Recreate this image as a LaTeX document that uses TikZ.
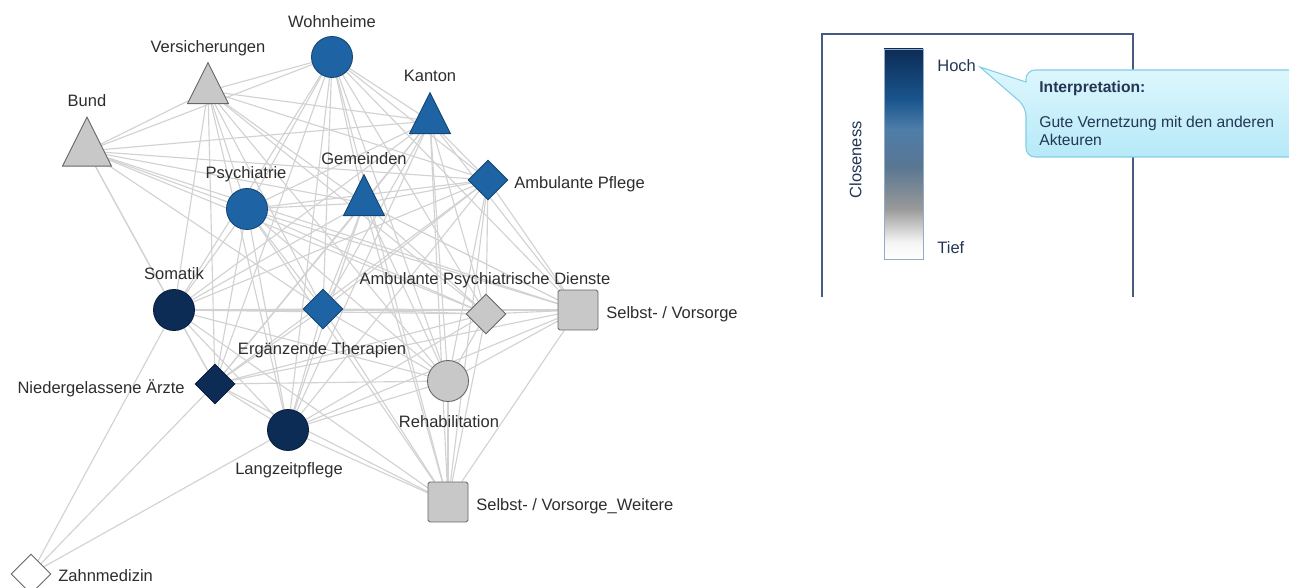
\documentclass[tikz,border=0pt]{standalone}
\usepackage{fontspec}
\setmainfont{Liberation Sans}
\usetikzlibrary{shapes.geometric,backgrounds}

\definecolor{navy}{RGB}{12,44,86}
\definecolor{midblue}{RGB}{30,100,165}
\definecolor{lightgray}{RGB}{200,200,200}
\definecolor{edgegray}{RGB}{210,210,210}
\definecolor{labelgray}{RGB}{45,45,45}
\definecolor{framecol}{RGB}{70,90,130}
\definecolor{legendtext}{RGB}{35,55,85}
\definecolor{barline}{RGB}{150,170,200}
\definecolor{calloutline}{RGB}{130,205,230}
\definecolor{callouttop}{RGB}{222,247,253}
\definecolor{calloutbot}{RGB}{182,233,248}

% closeness bar: white (low) to navy (high)
\pgfdeclareverticalshading{closebar}{100bp}{color(0bp)=(white); color(25bp)=(white);
  color(29bp)=(white!96!black); color(37bp)=(black!40); color(47bp)=(black!40!midblue!70);
  color(56bp)=(midblue!75!white!90!black); color(63bp)=(midblue!85!black);
  color(75bp)=(navy); color(100bp)=(navy)}

\tikzset{
  actor/.style={draw, line width=0.5pt, inner sep=0pt, minimum size=0.82cm},
  circ/.style={actor, circle},
  diam/.style={actor, diamond, minimum size=0.8cm},
  sq/.style={actor, rectangle, rounded corners=1pt, minimum size=0.8cm},
  tri/.style={actor, isosceles triangle, shape border rotate=90,
    isosceles triangle stretches, minimum width=0.82cm, minimum height=0.82cm},
  hi/.style={fill=navy, draw=navy!70!black},
  mid/.style={fill=midblue, draw=midblue!70!black},
  lo/.style={fill=lightgray, draw=black!60},
  none/.style={fill=white, draw=black!60},
  lbl/.style={inner sep=0pt, text height=0.72em, text depth=0pt, text=labelgray,
    font=\fontsize{9.4}{11}\selectfont},
  edge/.style={draw=edgegray, line width=0.65pt},
}

\begin{document}
\begin{tikzpicture}[x=0.02cm,y=-0.02cm]
  \clip (0,0) rectangle (1289,588);

  % actors
  \node[circ,mid] (woh) at (332,57) {};
  \node[tri,lo] (ver) at (208,91) {};
  \node[tri,lo,minimum width=0.98cm,minimum height=0.98cm] (bund) at (87,151) {};
  \node[tri,mid] (kan) at (430,121) {};
  \node[circ,mid] (psy) at (247,209) {};
  \node[tri,mid] (gem) at (364,203) {};
  \node[diam,mid] (ambpf) at (488,180) {};
  \node[circ,hi] (som) at (174,310) {};
  \node[diam,mid] (erg) at (323,309) {};
  \node[diam,lo] (aps) at (486,314) {};
  \node[sq,lo] (sv) at (578,310) {};
  \node[diam,hi] (arz) at (215,384) {};
  \node[circ,lo] (reha) at (448,381) {};
  \node[circ,hi] (lzp) at (288,430) {};
  \node[sq,lo] (svw) at (448,502) {};
  \node[diam,none] (zahn) at (31,574) {};

  % labels
  \node[lbl] (wohL) at (332,21) {Wohnheime};
  \node[lbl] (verL) at (208,46) {Versicherungen};
  \node[lbl] (bundL) at (87,100) {Bund};
  \node[lbl] (kanL) at (430,75) {Kanton};
  \node[lbl] (psyL) at (246,172) {Psychiatrie};
  \node[lbl] (gemL) at (364,158) {Gemeinden};
  \node[lbl,anchor=west] (ambpfL) at (514,182) {Ambulante Pflege};
  \node[lbl] (somL) at (174,273) {Somatik};
  \node[lbl] (ergL) at (322,348) {Ergänzende Therapien};
  \node[lbl] (apsL) at (485,278) {Ambulante Psychiatrische Dienste};
  \node[lbl,anchor=west] (svL) at (606,312) {Selbst- / Vorsorge};
  \node[lbl,anchor=east] (arzL) at (185,387) {Niedergelassene Ärzte};
  \node[lbl] (rehaL) at (449,421) {Rehabilitation};
  \node[lbl] (lzpL) at (289,468) {Langzeitpflege};
  \node[lbl,anchor=west] (svwL) at (476,504) {Selbst- / Vorsorge\_Weitere};
  \node[lbl,anchor=west] (zahnL) at (58,575) {Zahnmedizin};

  % ties
  \begin{scope}[on background layer]
    \foreach \a/\b in {bund/ver, bund/woh, bund/kan, bund/ambpf, bund/gem, bund/psy,
        bund/erg, bund/aps, bund/som, bund/arz, bund/sv,
        ver/woh, ver/kan, ver/ambpf, ver/gem, ver/psy, ver/som, ver/erg, ver/aps,
        ver/arz, ver/lzp, ver/reha,
        woh/kan, woh/ambpf, woh/gem, woh/psy, woh/som, woh/erg, woh/aps, woh/arz,
        woh/lzp, woh/reha, woh/svw, woh/sv,
        kan/gem, kan/ambpf, kan/psy, kan/som, kan/erg, kan/aps, kan/arz, kan/lzp,
        kan/reha, kan/svw, kan/sv,
        psy/gem, psy/ambpf, psy/som, psy/erg, psy/aps, psy/arz, psy/lzp, psy/reha,
        psy/svw, psy/sv,
        gem/ambpf, gem/som, gem/erg, gem/aps, gem/arz, gem/lzp, gem/reha, gem/svw, gem/sv,
        ambpf/som, ambpf/erg, ambpf/aps, ambpf/arz, ambpf/lzp, ambpf/reha, ambpf/svw, ambpf/sv,
        som/erg, som/aps, som/sv, som/arz, som/lzp, som/reha, som/svw, som/zahn,
        erg/aps, erg/sv, erg/arz, erg/lzp, erg/reha, erg/svw,
        aps/sv, aps/arz, aps/lzp, aps/reha, aps/svw,
        sv/arz, sv/lzp, sv/reha, sv/svw,
        arz/lzp, arz/reha, arz/svw, arz/zahn,
        reha/lzp, reha/svw, lzp/svw, lzp/zahn}
      \draw[edge] (\a) -- (\b);
  \end{scope}

  % legend
  \draw[framecol, line width=0.7pt] (822,297) -- (822,34) -- (1133,34) -- (1133,297);
  \shade[shading=closebar, draw=barline, line width=0.5pt] (884,49) rectangle (923,259);
  \node[lbl,anchor=west,text=legendtext] (hoch) at (937,65) {Hoch};
  \node[lbl,anchor=west,text=legendtext] (tief) at (937,247) {Tief};
  \node[lbl,rotate=90,text=legendtext] (close) at (855,160) {Closeness};

  % callout
  \draw[draw=calloutline, line width=0.6pt, top color=callouttop, bottom color=calloutbot]
    (1026,107) -- (980,67) -- (1026,82) [rounded corners=0.18cm] -- (1026,70)
    -- (1320,70) -- (1320,157) -- (1026,157) -- cycle;
  \node[anchor=north west, inner sep=0pt, align=left, text=legendtext,
    font=\fontsize{8.9}{10.2}\selectfont] (interp) at (1039,81)
    {\textbf{Interpretation:}\\[9.5pt]Gute Vernetzung mit den anderen\\Akteuren};
\end{tikzpicture}
\end{document}
